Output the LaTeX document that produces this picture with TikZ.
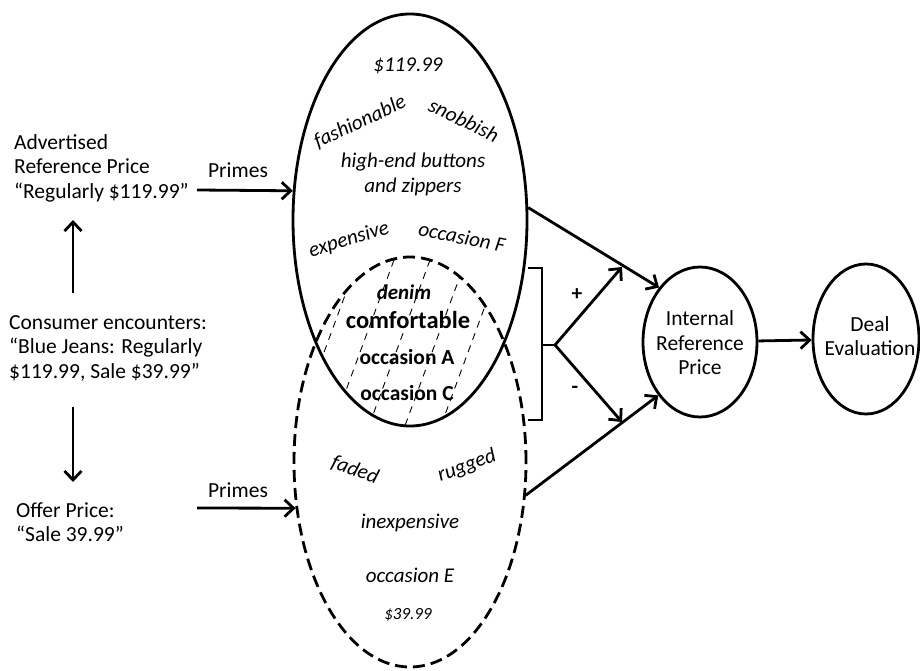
\documentclass[tikz,border=0pt]{standalone}
\usepackage{fontspec}
\setmainfont{Carlito}
\usetikzlibrary{shapes.geometric,arrows.meta}
\begin{document}
\begin{tikzpicture}[x=1pt,y=-1pt,
  lbl/.style={font=\fontsize{21.5}{24.5}\selectfont, align=left, inner sep=0pt},
  it/.style={font=\fontsize{21}{25}\selectfont\itshape, align=center, inner sep=0pt},
  bi/.style={font=\fontsize{21.5}{24}\selectfont\bfseries, inner sep=0pt},
  arr/.style={line width=2.8pt, -{Straight Barb[length=9pt,width=17pt]}},
  thick line/.style={line width=2.8pt},
  oval/.style={ellipse, draw, line width=2.8pt, inner sep=0pt},
  hatch/.style={line width=0.9pt, dash pattern=on 7pt off 6pt},
]
\useasboundingbox (0,0) rectangle (920,671);

% hatching of the overlap
\begin{scope}
\clip (410,220) ellipse [x radius=117, y radius=206];
\clip (410,462) ellipse [x radius=116, y radius=205];
\foreach \xk in {249,285,321,357,393,429,465,501}
  \draw[hatch] (\xk+37,260) -- (\xk-33,450);
\end{scope}

% ellipses
\node[oval, minimum width=234pt, minimum height=412pt] (topE) at (410,220) {};
\node[oval, dash pattern=on 12pt off 6pt, minimum width=232pt, minimum height=410pt] (botE) at (410,462) {};
\node[oval, minimum width=114pt, minimum height=150pt] (irp) at (700,342) {};
\node[oval, minimum width=106pt, minimum height=150pt] (deal) at (866,339) {};

% left texts
\node[lbl, anchor=west] (adv) at (14,168) {Advertised\\Reference Price\\“Regularly \$119.99”};
\node[lbl, anchor=west] (cons) at (9,348) {Consumer encounters:\\“Blue Jeans: Regularly\\\$119.99, Sale \$39.99”};
\node[lbl, anchor=west] (offer) at (16,522) {Offer Price:\\“Sale 39.99”};
\node[lbl] (pr1) at (238,170) {Primes};
\node[lbl] (pr2) at (238,490) {Primes};

% top ellipse texts
\node[it] (t1) at (408,66) {\$119.99};
\node[it, rotate=25] (t2) at (360,122) {fashionable};
\node[it, rotate=-26] (t3) at (464,120) {snobbish};
\node[it] (t4) at (413,174) {high-end buttons\\and zippers};
\node[it, rotate=17] (t5) at (349,240) {expensive};
\node[it, rotate=-11] (t6) at (462,237) {occasion F};

% overlap texts
\node[bi, font=\fontsize{21}{24}\selectfont\bfseries\itshape] (i1) at (404,292) {denim};
\node[bi, font=\fontsize{24.5}{27}\selectfont\bfseries] (i2) at (408,320) {comfortable};
\node[bi] (i3) at (407,357) {occasion A};
\node[bi] (i4) at (407,393) {occasion C};

% bottom ellipse texts
\node[it, rotate=-20] (b1) at (355,470) {faded};
\node[it, rotate=20] (b2) at (467,466) {rugged};
\node[it] (b3) at (410,523) {inexpensive};
\node[it] (b4) at (410,575) {occasion E};
\node[it, font=\fontsize{17}{19}\selectfont\itshape] (b5) at (408,615) {\$39.99};

% right texts
\node[lbl, align=center] (irpt) at (700,343) {Internal\\Reference\\Price};
\node[lbl, align=center] (dealt) at (870,336) {Deal\\Evaluation};

% vertical arrows on the left
\coordinate (u1) at (73,293); \coordinate (u2) at (73,220);
\coordinate (d1) at (73,407); \coordinate (d2) at (73,482);
\draw[arr] (u1) -- (u2);
\draw[arr] (d1) -- (d2);

% primes arrows
\coordinate (a1) at (197,190);
\coordinate (a2) at (197,508);
\draw[arr] (a1) -- (topE.166);
\draw[arr] (a2) -- (botE.202);

% to internal reference price
\draw[arr] (topE.6) -- (irp.127);
\draw[arr] (botE.-16) -- (irp.232);
\draw[arr] (irp) -- (deal);

% bracket
\coordinate (bt) at (528,268); \coordinate (bb) at (528,420);
\coordinate (bmid) at (542,345); \coordinate (bm) at (555,345);
\coordinate (pe) at (622,267); \coordinate (me) at (622,422);
\draw[thick line, line join=miter] (bt) -- (542,268) -- (542,420) -- (bb);
\draw[thick line] (bmid) -- (bm);
\draw[arr] (bm) -- (pe);
\draw[arr] (bm) -- (me);
\node[lbl, font=\fontsize{21.5}{24}\selectfont\bfseries] (plus) at (577,295) {+};
\node[lbl, font=\fontsize{21.5}{24}\selectfont\bfseries] (minus) at (575,390) {-};
\end{tikzpicture}
\end{document}
